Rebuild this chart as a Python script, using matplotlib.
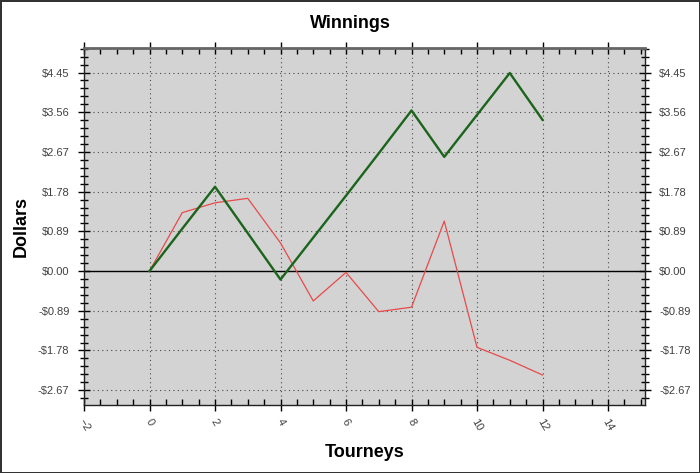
import matplotlib
matplotlib.use('Agg')
import matplotlib.pyplot as plt
from matplotlib.ticker import MultipleLocator, FuncFormatter

plt.rcParams['font.family'] = ['Liberation Sans', 'DejaVu Sans']

# Dane
tourneys = [0, 1, 2, 3, 4, 5, 6, 7, 8, 9, 10, 11, 12]
total_winnings = [0.0, 0.95, 1.89, 0.85, -0.19, 0.75, 1.69, 2.64, 3.60, 2.56, 3.50, 4.44, 3.39]
per_tourney = [0.0, 1.31, 1.53, 1.63, 0.63, -0.67, -0.03, -0.91, -0.81, 1.12, -1.71, -2.00, -2.33]

y_step = 0.89

fig = plt.figure(figsize=(7, 4.73), dpi=100, edgecolor='#333333', linewidth=2)
ax = fig.add_axes([0.12, 0.144, 0.801, 0.7545])
ax.set_facecolor('#d3d3d3')

ax.axhline(0, color='black', linewidth=1, zorder=2)
ax.plot(tourneys, per_tourney, color='#e84a4a', linewidth=0.9, zorder=3)
ax.plot(tourneys, total_winnings, color='#1b641b', linewidth=1.7, zorder=4)

ax.set_xlim(-2, 15.12)
ax.set_ylim(-3.0, 5.0)

ax.xaxis.set_major_locator(MultipleLocator(2))
ax.xaxis.set_minor_locator(MultipleLocator(0.5))
ax.yaxis.set_major_locator(MultipleLocator(y_step))
ax.yaxis.set_minor_locator(MultipleLocator(y_step / 5))


def dollars(v, pos):
    v = round(v, 2)
    if v < 0:
        return '-${:.2f}'.format(-v)
    return '${:.2f}'.format(v)


ax.yaxis.set_major_formatter(FuncFormatter(dollars))

ax.grid(True, which='major', color='#4a4a4a', linestyle=(0, (1, 3)), linewidth=0.8)

ax.tick_params(axis='y', which='major', direction='inout', length=9, width=1,
               left=True, right=True, labelleft=True, labelright=True,
               labelsize=8, labelcolor='#404040', pad=6)
ax.tick_params(axis='y', which='minor', direction='inout', length=6, width=1,
               left=True, right=True)
ax.tick_params(axis='x', which='major', direction='inout', length=9, width=1,
               bottom=True, top=True, labelsize=8, labelcolor='#404040',
               labelrotation=-60, pad=4)
ax.tick_params(axis='x', which='minor', direction='in', length=4, width=1,
               bottom=True, top=True)
for lbl in ax.get_xticklabels():
    lbl.set_ha('center')
    lbl.set_va('top')

for side in ['left', 'right', 'bottom']:
    ax.spines[side].set_color('#222222')
    ax.spines[side].set_linewidth(1)
ax.spines['top'].set_color('#666666')
ax.spines['top'].set_linewidth(2)

fig.text(0.5, 0.951, 'Winnings', ha='center', va='center', fontsize=13, fontweight='bold')
ax.set_xlabel('Tourneys', fontsize=13, fontweight='bold', labelpad=8)
ax.set_ylabel('Dollars', fontsize=13, fontweight='bold', labelpad=6)

fig.savefig('out.png', dpi=100)
